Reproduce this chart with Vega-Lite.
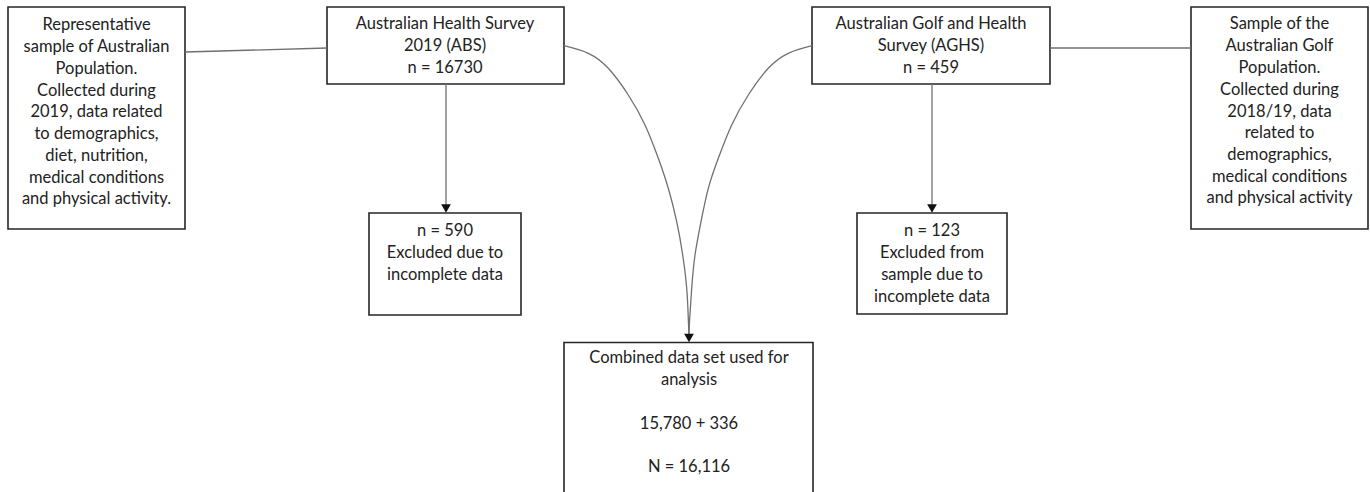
{
  "$schema": "https://vega.github.io/schema/vega-lite/v6.json",
  "width": 1370,
  "height": 492,
  "autosize": {"type": "fit", "contains": "padding"},
  "padding": 0,
  "background": "white",
  "config": {"view": {"stroke": null}},
  "datasets": {
    "boxes": [
      {"id": "pop", "x0": 8, "x1": 185, "y0": 7, "y1": 229},
      {"id": "abs", "x0": 327, "x1": 564, "y0": 7, "y1": 84},
      {"id": "ex590", "x0": 369, "x1": 521, "y0": 213, "y1": 315},
      {"id": "combined", "x0": 564, "x1": 813, "y0": 342.5, "y1": 496},
      {"id": "ex123", "x0": 857, "x1": 1007, "y0": 213, "y1": 314},
      {"id": "aghs", "x0": 812, "x1": 1050, "y0": 7, "y1": 84},
      {"id": "golf", "x0": 1191, "x1": 1368, "y0": 7, "y1": 229}
    ],
    "links": [
      {"id": "pop-abs", "x0": 185, "y0": 52, "x1": 327, "y1": 48},
      {"id": "aghs-golf", "x0": 1050, "y0": 48, "x1": 1191, "y1": 48},
      {"id": "abs-590", "x0": 446, "y0": 84, "x1": 446, "y1": 208},
      {"id": "aghs-123", "x0": 932, "x1": 932, "y0": 84, "y1": 208}
    ],
    "curves": [
      {"c": "abs", "i": 0, "x": 564, "y": 45.7},
      {"c": "abs", "i": 1, "x": 588.3, "y": 53.3},
      {"c": "abs", "i": 2, "x": 608.3, "y": 68.3},
      {"c": "abs", "i": 3, "x": 628.3, "y": 95},
      {"c": "abs", "i": 4, "x": 645, "y": 125},
      {"c": "abs", "i": 5, "x": 658.3, "y": 158.3},
      {"c": "abs", "i": 6, "x": 668.3, "y": 188.3},
      {"c": "abs", "i": 7, "x": 676.7, "y": 221.7},
      {"c": "abs", "i": 8, "x": 682.7, "y": 255},
      {"c": "abs", "i": 9, "x": 686.7, "y": 288.3},
      {"c": "abs", "i": 10, "x": 688.3, "y": 318.3},
      {"c": "abs", "i": 11, "x": 689, "y": 336},
      {"c": "aghs", "i": 0, "x": 812, "y": 45.7},
      {"c": "aghs", "i": 1, "x": 788.3, "y": 53.3},
      {"c": "aghs", "i": 2, "x": 768.3, "y": 68.3},
      {"c": "aghs", "i": 3, "x": 748.3, "y": 95},
      {"c": "aghs", "i": 4, "x": 731.7, "y": 125},
      {"c": "aghs", "i": 5, "x": 718.3, "y": 158.3},
      {"c": "aghs", "i": 6, "x": 708.3, "y": 188.3},
      {"c": "aghs", "i": 7, "x": 701, "y": 221.7},
      {"c": "aghs", "i": 8, "x": 695, "y": 255},
      {"c": "aghs", "i": 9, "x": 691.7, "y": 288.3},
      {"c": "aghs", "i": 10, "x": 689.7, "y": 318.3},
      {"c": "aghs", "i": 11, "x": 689, "y": 336}
    ],
    "arrows": [
      {"to": "ex590", "x": 446, "y": 208.5},
      {"to": "ex123", "x": 932, "y": 208.5},
      {"to": "combined", "x": 689, "y": 338}
    ],
    "labels": [
      {"box": "pop", "x": 96.5, "y": 25, "t": "Representative"},
      {"box": "pop", "x": 96.5, "y": 47, "t": "sample of Australian"},
      {"box": "pop", "x": 96.5, "y": 69, "t": "Population."},
      {"box": "pop", "x": 96.5, "y": 91, "t": "Collected during"},
      {"box": "pop", "x": 96.5, "y": 112, "t": "2019, data related"},
      {"box": "pop", "x": 96.5, "y": 134, "t": "to demographics,"},
      {"box": "pop", "x": 96.5, "y": 156, "t": "diet, nutrition,"},
      {"box": "pop", "x": 96.5, "y": 178, "t": "medical conditions"},
      {"box": "pop", "x": 96.5, "y": 199, "t": "and physical activity."},
      {"box": "abs", "x": 445, "y": 24, "t": "Australian Health Survey"},
      {"box": "abs", "x": 445, "y": 46, "t": "2019 (ABS)"},
      {"box": "abs", "x": 445, "y": 68, "t": "n = 16730"},
      {"box": "ex590", "x": 445, "y": 231, "t": "n = 590"},
      {"box": "ex590", "x": 445, "y": 253, "t": "Excluded due to"},
      {"box": "ex590", "x": 445, "y": 275, "t": "incomplete data"},
      {"box": "combined", "x": 689, "y": 358, "t": "Combined data set used for"},
      {"box": "combined", "x": 689, "y": 380, "t": "analysis"},
      {"box": "combined", "x": 689, "y": 424, "t": "15,780 + 336"},
      {"box": "combined", "x": 689, "y": 467, "t": "N = 16,116"},
      {"box": "aghs", "x": 931, "y": 24, "t": "Australian Golf and Health"},
      {"box": "aghs", "x": 931, "y": 46, "t": "Survey (AGHS)"},
      {"box": "aghs", "x": 931, "y": 68, "t": "n = 459"},
      {"box": "ex123", "x": 932, "y": 231, "t": "n = 123"},
      {"box": "ex123", "x": 932, "y": 253, "t": "Excluded from"},
      {"box": "ex123", "x": 932, "y": 275, "t": "sample due to"},
      {"box": "ex123", "x": 932, "y": 297, "t": "incomplete data"},
      {"box": "golf", "x": 1279.5, "y": 24, "t": "Sample of the"},
      {"box": "golf", "x": 1279.5, "y": 46, "t": "Australian Golf"},
      {"box": "golf", "x": 1279.5, "y": 68, "t": "Population."},
      {"box": "golf", "x": 1279.5, "y": 90, "t": "Collected during"},
      {"box": "golf", "x": 1279.5, "y": 112, "t": "2018/19, data"},
      {"box": "golf", "x": 1279.5, "y": 133, "t": "related to"},
      {"box": "golf", "x": 1279.5, "y": 155, "t": "demographics,"},
      {"box": "golf", "x": 1279.5, "y": 177, "t": "medical conditions"},
      {"box": "golf", "x": 1279.5, "y": 198, "t": "and physical activity"}
    ]
  },
  "layer": [
    {
      "data": {"name": "boxes"},
      "mark": {"type": "rect", "fill": "white", "stroke": "#262626", "strokeWidth": 1.6, "clip": true},
      "encoding": {
        "x": {"field": "x0", "type": "quantitative", "scale": {"domain": [0, 1370], "nice": false, "zero": false}, "axis": null},
        "x2": {"field": "x1"},
        "y": {"field": "y0", "type": "quantitative", "scale": {"domain": [0, 492], "nice": false, "zero": false, "reverse": true}, "axis": null},
        "y2": {"field": "y1"}
      }
    },
    {
      "data": {"name": "links"},
      "mark": {"type": "rule", "stroke": "#707070", "strokeWidth": 1.3},
      "encoding": {
        "x": {"field": "x0", "type": "quantitative"},
        "x2": {"field": "x1"},
        "y": {"field": "y0", "type": "quantitative"},
        "y2": {"field": "y1"}
      }
    },
    {
      "data": {"name": "curves"},
      "mark": {"type": "line", "stroke": "#707070", "strokeWidth": 1.3, "interpolate": "natural"},
      "encoding": {
        "x": {"field": "x", "type": "quantitative"},
        "y": {"field": "y", "type": "quantitative"},
        "detail": {"field": "c"},
        "order": {"field": "i", "type": "quantitative"}
      }
    },
    {
      "data": {"name": "arrows"},
      "mark": {"type": "point", "shape": "triangle-down", "filled": true, "color": "#111111", "size": 95, "opacity": 1},
      "encoding": {
        "x": {"field": "x", "type": "quantitative"},
        "y": {"field": "y", "type": "quantitative"}
      }
    },
    {
      "data": {"name": "labels"},
      "mark": {"type": "text", "font": "Lato", "fontSize": 16.5, "color": "#222222", "align": "center", "baseline": "middle"},
      "encoding": {
        "x": {"field": "x", "type": "quantitative"},
        "y": {"field": "y", "type": "quantitative"},
        "text": {"field": "t"}
      }
    }
  ]
}
